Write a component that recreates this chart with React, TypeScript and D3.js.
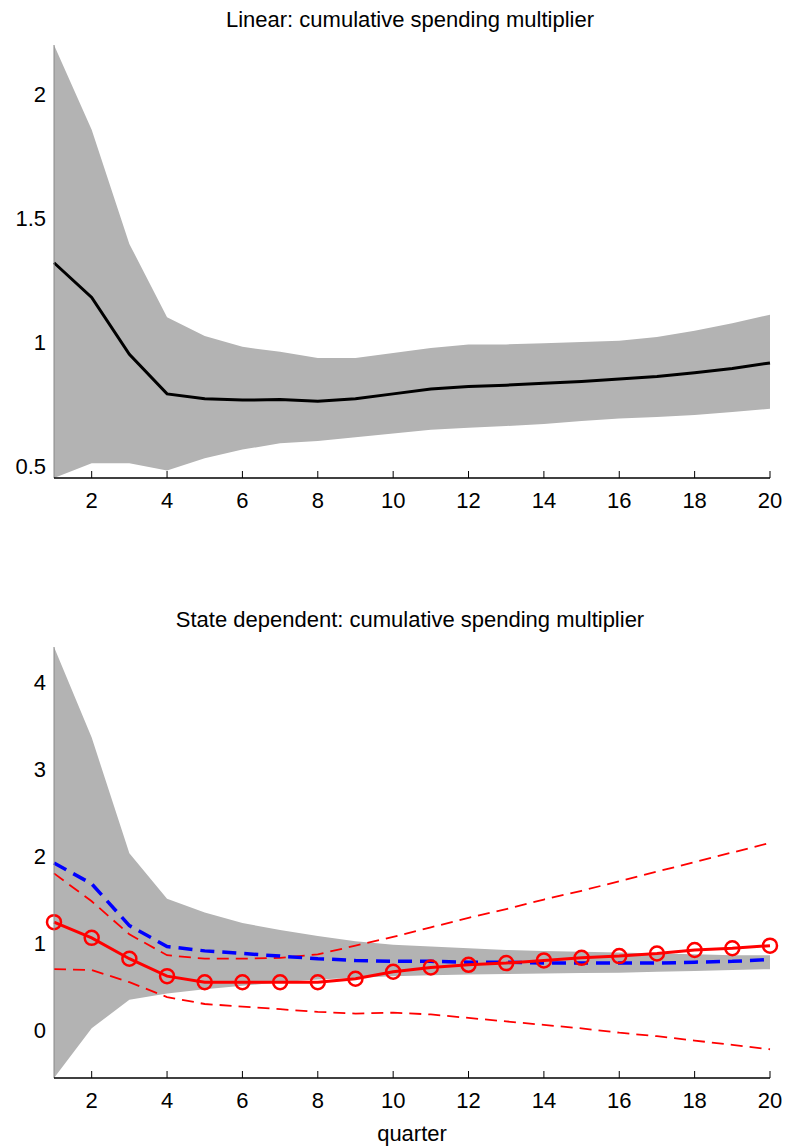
import * as d3 from 'd3';

const quarters = d3.range(1, 21);

const linMean = [1.32, 1.18, 0.95, 0.79, 0.77, 0.765, 0.767, 0.76, 0.77, 0.79, 0.81, 0.82, 0.825, 0.833, 0.84, 0.85, 0.86, 0.875, 0.893, 0.915];
const linUpper = [2.2, 1.857, 1.396, 1.1, 1.024, 0.98, 0.96, 0.935, 0.935, 0.955, 0.975, 0.99, 0.99, 0.995, 1.0, 1.005, 1.02, 1.045, 1.075, 1.11];
const linLower = [0.45, 0.51, 0.51, 0.48, 0.53, 0.565, 0.59, 0.6, 0.615, 0.63, 0.645, 0.653, 0.66, 0.668, 0.68, 0.69, 0.697, 0.705, 0.717, 0.73];

const bandUpper = [4.4, 3.36, 2.03, 1.51, 1.35, 1.23, 1.15, 1.08, 1.02, 0.98, 0.96, 0.94, 0.92, 0.91, 0.9, 0.89, 0.88, 0.87, 0.86, 0.86];
const bandLower = [-0.55, 0.02, 0.35, 0.42, 0.47, 0.51, 0.55, 0.58, 0.6, 0.62, 0.63, 0.64, 0.645, 0.65, 0.655, 0.66, 0.67, 0.68, 0.69, 0.7];
const redMean = [1.24, 1.06, 0.82, 0.62, 0.55, 0.55, 0.55, 0.55, 0.59, 0.67, 0.72, 0.75, 0.77, 0.8, 0.83, 0.85, 0.88, 0.92, 0.94, 0.97];
const blueMean = [1.92, 1.68, 1.2, 0.96, 0.91, 0.88, 0.85, 0.82, 0.8, 0.79, 0.79, 0.78, 0.78, 0.77, 0.77, 0.77, 0.77, 0.78, 0.79, 0.81];
const redUpper = [1.8, 1.48, 1.1, 0.86, 0.82, 0.82, 0.83, 0.87, 0.97, 1.07, 1.18, 1.29, 1.39, 1.5, 1.6, 1.71, 1.82, 1.93, 2.04, 2.15];
const redLower = [0.7, 0.69, 0.55, 0.38, 0.3, 0.27, 0.24, 0.21, 0.19, 0.2, 0.18, 0.14, 0.1, 0.06, 0.02, -0.03, -0.07, -0.12, -0.17, -0.22];

const xTicks = d3.range(2, 21, 2);
const topTicks = [0.5, 1, 1.5, 2];
const botTicks = [0, 1, 2, 3, 4];

const font = 'Liberation Sans, Arial, sans-serif';

const x = d3.scaleLinear().domain([1, 20]).range([54, 770]);

function Panel({ y, title, titleY, ticks, children }: any) {
  const [y0, y1] = y.range();
  return (
    <g>
      <text x={410} y={titleY} textAnchor="middle" fontSize={22} fontFamily={font}>{title}</text>
      {children}
      <line x1={x(1)} x2={x(1)} y1={y0} y2={y1} stroke="#888" />
      <line x1={x(1)} x2={x(20)} y1={y0} y2={y0} stroke="#000" strokeWidth={1.5} />
      {xTicks.map((t) => (
        <g key={t}>
          <line x1={x(t)} x2={x(t)} y1={y0} y2={y0 - 7} stroke="#000" />
          <text x={x(t)} y={y0 + 30} textAnchor="middle" fontSize={22} fontFamily={font}>{t}</text>
        </g>
      ))}
      {ticks.map((t: number) => (
        <text key={t} x={46} y={y(t) + 8} textAnchor="end" fontSize={22} fontFamily={font}>{t}</text>
      ))}
    </g>
  );
}

export default function App() {
  const yTop = d3.scaleLinear().domain([0.45, 2.2]).range([478, 45]);
  const yBot = d3.scaleLinear().domain([-0.55, 4.4]).range([1078, 647]);

  const area = (yy: any, lo: number[], hi: number[]) =>
    d3.area<number>().x((q) => x(q)).y0((_, i) => yy(lo[i])).y1((_, i) => yy(hi[i]))(quarters) || '';
  const line = (yy: any, vals: number[]) =>
    d3.line<number>().x((q) => x(q)).y((_, i) => yy(vals[i]))(quarters) || '';

  return (
    <svg width={788} height={1147} style={{ position: 'absolute', left: 0, top: 0 }}>
      <rect width={788} height={1147} fill="#fff" />
      <Panel y={yTop} title="Linear: cumulative spending multiplier" titleY={27} ticks={topTicks}>
        <path d={area(yTop, linLower, linUpper)} fill="#b3b3b3" />
        <path d={line(yTop, linMean)} fill="none" stroke="#000" strokeWidth={3} />
      </Panel>
      <Panel y={yBot} title="State dependent: cumulative spending multiplier" titleY={627} ticks={botTicks}>
        <path d={area(yBot, bandLower, bandUpper)} fill="#b3b3b3" />
        <path d={line(yBot, redUpper)} fill="none" stroke="#f00" strokeWidth={1.8} strokeDasharray="12 7" />
        <path d={line(yBot, redLower)} fill="none" stroke="#f00" strokeWidth={1.8} strokeDasharray="12 7" />
        <path d={line(yBot, blueMean)} fill="none" stroke="#00f" strokeWidth={3.5} strokeDasharray="14 8" />
        <path d={line(yBot, redMean)} fill="none" stroke="#f00" strokeWidth={3} />
        {quarters.map((q, i) => (
          <circle key={q} cx={x(q)} cy={yBot(redMean[i])} r={7} fill="none" stroke="#f00" strokeWidth={2.5} />
        ))}
      </Panel>
      <text x={412} y={1141} textAnchor="middle" fontSize={22} fontFamily={font}>quarter</text>
    </svg>
  );
}
